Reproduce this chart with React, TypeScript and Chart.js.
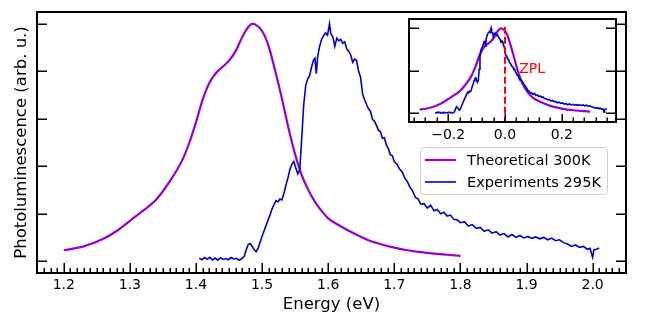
import React, { useEffect, useRef } from "react";
import { Chart, registerables } from "chart.js";

Chart.register(...registerables);

// ---------- data ----------
const seriesLabels = ["Theoretical 300K", "Experiments 295K"];

const theoEnergy = [
  1.2, 1.23, 1.26, 1.28, 1.3, 1.32, 1.34, 1.36, 1.38, 1.39, 1.4, 1.41, 1.42, 1.43, 1.44, 1.45,
  1.46, 1.47, 1.48, 1.485, 1.49, 1.5, 1.51, 1.52, 1.53, 1.54, 1.55, 1.56, 1.57, 1.58, 1.59, 1.6,
  1.62, 1.64, 1.66, 1.68, 1.7, 1.72, 1.74, 1.76, 1.78, 1.8,
];
const theoValues = [
  0.046, 0.062, 0.094, 0.127, 0.17, 0.213, 0.26, 0.335, 0.43, 0.5, 0.585, 0.68, 0.75, 0.792,
  0.818, 0.845, 0.885, 0.945, 0.99, 1.0, 0.997, 0.97, 0.905, 0.8, 0.685, 0.56, 0.45, 0.362, 0.3,
  0.25, 0.212, 0.18, 0.145, 0.115, 0.089, 0.071, 0.057, 0.046, 0.038, 0.032, 0.027, 0.022,
];

const expEnergy = [
  1.405, 1.409, 1.413, 1.417, 1.421, 1.425, 1.429, 1.433, 1.437, 1.441, 1.445, 1.449, 1.453, 1.457,
  1.461, 1.465, 1.469, 1.473, 1.476, 1.479, 1.482, 1.485, 1.488, 1.491, 1.494, 1.497, 1.5, 1.504,
  1.508, 1.512, 1.515, 1.518, 1.521, 1.524, 1.527, 1.53, 1.533, 1.536, 1.539, 1.542, 1.545, 1.548,
  1.551, 1.554, 1.557, 1.56, 1.563, 1.566, 1.569, 1.572, 1.575, 1.578, 1.58, 1.582, 1.584, 1.587,
  1.59, 1.593, 1.596, 1.599, 1.602, 1.604, 1.607, 1.61, 1.613, 1.616, 1.619, 1.622, 1.625, 1.628,
  1.631, 1.634, 1.637, 1.64, 1.643, 1.646, 1.649, 1.652, 1.655, 1.658, 1.661, 1.664, 1.667, 1.67,
  1.673, 1.676, 1.679, 1.682, 1.685, 1.688, 1.691, 1.694, 1.697, 1.7, 1.704, 1.708, 1.712, 1.716,
  1.72, 1.724, 1.728, 1.732, 1.736, 1.74, 1.745, 1.75, 1.755, 1.76, 1.765, 1.77, 1.775, 1.78,
  1.785, 1.79, 1.795, 1.8, 1.806, 1.812, 1.818, 1.824, 1.83, 1.836, 1.842, 1.848, 1.854, 1.86,
  1.866, 1.872, 1.878, 1.884, 1.89, 1.896, 1.902, 1.908, 1.914, 1.92, 1.926, 1.932, 1.938, 1.944,
  1.95, 1.956, 1.962, 1.968, 1.974, 1.98, 1.986, 1.992, 1.996, 2.0, 2.002, 2.006, 2.01,
];
const expValues = [
  0.012, 0.006, 0.015, 0.008, 0.016, 0.005, 0.013, 0.004, 0.014, 0.007, 0.011, 0.006, 0.015, 0.009,
  0.012, 0.004, 0.01, 0.02, 0.048, 0.07, 0.074, 0.062, 0.048, 0.04, 0.055, 0.08, 0.105, 0.135,
  0.165, 0.195, 0.22, 0.238, 0.255, 0.25, 0.262, 0.258, 0.285, 0.32, 0.35, 0.385, 0.408, 0.42,
  0.392, 0.368, 0.385, 0.52, 0.66, 0.74, 0.768, 0.782, 0.82, 0.848, 0.855, 0.79, 0.86, 0.905,
  0.935, 0.95, 0.962, 0.952, 1.0, 0.958, 0.945, 0.905, 0.94, 0.928, 0.935, 0.918, 0.924, 0.895,
  0.885, 0.87, 0.838, 0.852, 0.845, 0.8, 0.775, 0.705, 0.68, 0.66, 0.642, 0.632, 0.598, 0.59,
  0.572, 0.552, 0.545, 0.518, 0.52, 0.49, 0.474, 0.448, 0.445, 0.42, 0.408, 0.388, 0.376, 0.35,
  0.334, 0.31, 0.294, 0.268, 0.262, 0.24, 0.242, 0.224, 0.236, 0.212, 0.218, 0.2, 0.206, 0.19,
  0.194, 0.176, 0.174, 0.162, 0.166, 0.148, 0.154, 0.138, 0.142, 0.126, 0.132, 0.118, 0.124, 0.11,
  0.116, 0.102, 0.112, 0.1, 0.108, 0.098, 0.104, 0.096, 0.102, 0.094, 0.1, 0.09, 0.097, 0.086,
  0.09, 0.078, 0.072, 0.062, 0.068, 0.058, 0.062, 0.05, 0.054, 0.016, 0.048, 0.05, 0.056,
];

// zero-phonon-line positions used to shift curves in the inset
const zplTheo = 1.5;
const zplExp = 1.651;

const xTickValues = [1.2, 1.3, 1.4, 1.5, 1.6, 1.7, 1.8, 1.9, 2.0];
const yTickValues = [0, 0.2, 0.4, 0.6, 0.8, 1.0];
const insetXTickValues = [-0.2, 0.0, 0.2];
const insetYTickValues = [0, 0.5, 1.0];

const zplLineY = [-0.12, 1.03];
const zplLabel = "ZPL";
const zplLabelPos = [0.05, 0.48];

// ---------- styles ----------
const PURPLE = "#9400D3";
const BLUE = "#0000CD";
const RED = "#FF0000";
const FONT = "'DejaVu Sans', 'Liberation Sans', sans-serif";

const mainXMinor: number[] = [];
for (let i = 117; i <= 204; i++) if (i % 10 !== 0) mainXMinor.push(i / 100);
const insetXMinor: number[] = [];
for (let i = -8; i <= 9; i++) if (i % 5 !== 0) insetXMinor.push((i * 4) / 100);

type FrameSpec = {
  xMajor: number[];
  xMinor: number[];
  yMajor: number[];
  xMajorLen: number;
  yMajorLen: number;
  minorLen: number;
  fillWhite: boolean;
};

function framePlugin(spec: FrameSpec) {
  return {
    id: "frameTicks",
    beforeDraw(chart: any) {
      if (!spec.fillWhite) return;
      const { ctx, chartArea: a } = chart;
      ctx.save();
      ctx.fillStyle = "#ffffff";
      ctx.fillRect(a.left, a.top, a.right - a.left, a.bottom - a.top);
      ctx.restore();
    },
    afterDatasetsDraw(chart: any) {
      const { ctx, chartArea: a, scales } = chart;
      const xs = scales.x;
      const ys = scales.y;
      ctx.save();
      ctx.strokeStyle = "#000";
      ctx.lineWidth = 1.5;
      ctx.beginPath();
      for (const v of spec.xMajor) {
        const p = Math.round(xs.getPixelForValue(v)) + 0.25;
        ctx.moveTo(p, a.bottom);
        ctx.lineTo(p, a.bottom - spec.xMajorLen);
      }
      for (const v of spec.xMinor) {
        const p = Math.round(xs.getPixelForValue(v)) + 0.25;
        ctx.moveTo(p, a.bottom);
        ctx.lineTo(p, a.bottom - spec.minorLen);
      }
      for (const v of spec.yMajor) {
        const p = Math.round(ys.getPixelForValue(v)) + 0.25;
        ctx.moveTo(a.left, p);
        ctx.lineTo(a.left + spec.yMajorLen, p);
        ctx.moveTo(a.right, p);
        ctx.lineTo(a.right - spec.yMajorLen, p);
      }
      ctx.stroke();
      ctx.lineWidth = 2;
      ctx.strokeRect(a.left, a.top, a.right - a.left, a.bottom - a.top);
      ctx.restore();
    },
  };
}

const legendPlugin = {
  id: "customLegend",
  afterDraw(chart: any) {
    const { ctx } = chart;
    const left = 420;
    const top = 147;
    const w = 187;
    const h = 47;
    ctx.save();
    ctx.fillStyle = "rgba(255,255,255,0.85)";
    ctx.strokeStyle = "#d0d0d0";
    ctx.lineWidth = 1;
    ctx.beginPath();
    (ctx as any).roundRect(left + 0.5, top + 0.5, w, h, 3);
    ctx.fill();
    ctx.stroke();
    const rows = [
      { label: seriesLabels[0], color: PURPLE, width: 2.2, y: top + 13 },
      { label: seriesLabels[1], color: BLUE, width: 1.6, y: top + 35 },
    ];
    ctx.font = `14.6px ${FONT}`;
    ctx.textBaseline = "middle";
    ctx.fillStyle = "#000";
    for (const r of rows) {
      ctx.strokeStyle = r.color;
      ctx.lineWidth = r.width;
      ctx.beginPath();
      ctx.moveTo(left + 5, r.y);
      ctx.lineTo(left + 36, r.y);
      ctx.stroke();
      ctx.fillText(r.label, left + 47, r.y + 1);
    }
    ctx.restore();
  },
};

const zplLabelPlugin = {
  id: "zplLabel",
  afterDatasetsDraw(chart: any) {
    const { ctx, scales } = chart;
    ctx.save();
    ctx.fillStyle = RED;
    ctx.font = `14px ${FONT}`;
    ctx.textBaseline = "alphabetic";
    ctx.fillText(
      zplLabel,
      scales.x.getPixelForValue(zplLabelPos[0]),
      scales.y.getPixelForValue(zplLabelPos[1])
    );
    ctx.restore();
  },
};

const fmtTick = (v: number) => (v < 0 ? "\u2212" + Math.abs(v).toFixed(1) : v.toFixed(1));

export default function App() {
  const mainRef = useRef<HTMLCanvasElement | null>(null);
  const insetRef = useRef<HTMLCanvasElement | null>(null);

  useEffect(() => {
    if (!mainRef.current || !insetRef.current) return;

    const theoPts = theoEnergy.map((x, i) => ({ x, y: theoValues[i] }));
    const expPts = expEnergy.map((x, i) => ({ x, y: expValues[i] }));

    const main = new Chart(mainRef.current, {
      type: "line",
      data: {
        datasets: [
          {
            label: seriesLabels[0],
            data: theoPts,
            borderColor: PURPLE,
            borderWidth: 2.2,
            pointRadius: 0,
            cubicInterpolationMode: "monotone",
            fill: false,
            order: 2,
          },
          {
            label: seriesLabels[1],
            data: expPts,
            borderColor: BLUE,
            borderWidth: 1.6,
            pointRadius: 0,
            tension: 0,
            fill: false,
            order: 1,
          },
        ],
      },
      options: {
        animation: false,
        responsive: false,
        maintainAspectRatio: false,
        devicePixelRatio: 1,
        layout: { padding: { top: 12, right: 24, left: 0, bottom: 0 } },
        plugins: { legend: { display: false }, tooltip: { enabled: false } },
        scales: {
          x: {
            type: "linear",
            min: 1.1595,
            max: 2.0505,
            grid: { display: false },
            border: { display: false },
            afterBuildTicks: (s: any) => {
              s.ticks = xTickValues.map((v) => ({ value: v }));
            },
            afterFit: (s: any) => {
              s.height = 52;
            },
            ticks: {
              callback: (v: any) => fmtTick(Number(v)),
              font: { family: FONT, size: 14 },
              color: "#000",
              padding: -4,
              maxRotation: 0,
              autoSkip: false,
            },
            title: {
              display: true,
              text: "Energy (eV)",
              font: { family: FONT, size: 16.5 },
              color: "#000",
              padding: { top: 0, bottom: 10 },
            },
          },
          y: {
            type: "linear",
            min: -0.05,
            max: 1.05,
            grid: { display: false },
            border: { display: false },
            ticks: { display: false },
            afterFit: (s: any) => {
              s.width = 37;
            },
            title: {
              display: true,
              text: "Photoluminescence (arb. u.)",
              font: { family: FONT, size: 16.5 },
              color: "#000",
              padding: { top: 11.5, bottom: 0 },
            },
          },
        },
      } as any,
      plugins: [
        framePlugin({
          xMajor: xTickValues,
          xMinor: mainXMinor,
          yMajor: yTickValues,
          xMajorLen: 10,
          yMajorLen: 10,
          minorLen: 5,
          fillWhite: false,
        }),
        legendPlugin,
      ],
    });

    const inset = new Chart(insetRef.current, {
      type: "line",
      data: {
        datasets: [
          {
            label: seriesLabels[0],
            data: theoEnergy.map((x, i) => ({ x: x - zplTheo, y: theoValues[i] })),
            borderColor: PURPLE,
            borderWidth: 2.2,
            pointRadius: 0,
            cubicInterpolationMode: "monotone",
            fill: false,
            order: 2,
          },
          {
            label: seriesLabels[1],
            data: expEnergy.map((x, i) => ({ x: x - zplExp, y: expValues[i] })),
            borderColor: BLUE,
            borderWidth: 1.6,
            pointRadius: 0,
            tension: 0,
            fill: false,
            order: 1,
          },
          {
            label: zplLabel,
            data: zplLineY.map((y) => ({ x: 0, y })),
            borderColor: RED,
            borderWidth: 2,
            borderDash: [7, 3],
            pointRadius: 0,
            fill: false,
            order: 0,
          },
        ],
      },
      options: {
        animation: false,
        responsive: false,
        maintainAspectRatio: false,
        devicePixelRatio: 1,
        layout: { padding: { top: 19, right: 14, left: 0, bottom: 0 } },
        plugins: { legend: { display: false }, tooltip: { enabled: false } },
        scales: {
          x: {
            type: "linear",
            min: -0.338,
            max: 0.391,
            grid: { display: false },
            border: { display: false },
            afterBuildTicks: (s: any) => {
              s.ticks = insetXTickValues.map((v) => ({ value: v }));
            },
            afterFit: (s: any) => {
              s.height = 28;
            },
            ticks: {
              callback: (v: any) => fmtTick(Number(v)),
              font: { family: FONT, size: 14 },
              color: "#000",
              padding: -3,
              maxRotation: 0,
              autoSkip: false,
            },
          },
          y: {
            type: "linear",
            min: -0.1,
            max: 1.11,
            grid: { display: false },
            border: { display: false },
            ticks: { display: false },
            afterFit: (s: any) => {
              s.width = 29;
            },
          },
        },
      } as any,
      plugins: [
        framePlugin({
          xMajor: insetXTickValues,
          xMinor: insetXMinor,
          yMajor: insetYTickValues,
          xMajorLen: 8,
          yMajorLen: 10,
          minorLen: 4.5,
          fillWhite: true,
        }),
        zplLabelPlugin,
      ],
    });

    return () => {
      main.destroy();
      inset.destroy();
    };
  }, []);

  return (
    <div
      style={{
        position: "fixed",
        left: 0,
        top: 0,
        width: 650,
        height: 325,
        background: "#ffffff",
      }}
    >
      <canvas
        ref={mainRef}
        width={650}
        height={325}
        style={{ position: "absolute", left: 0, top: 0, width: 650, height: 325 }}
      />
      <canvas
        ref={insetRef}
        width={250}
        height={150}
        style={{ position: "absolute", left: 380, top: 0, width: 250, height: 150 }}
      />
    </div>
  );
}
